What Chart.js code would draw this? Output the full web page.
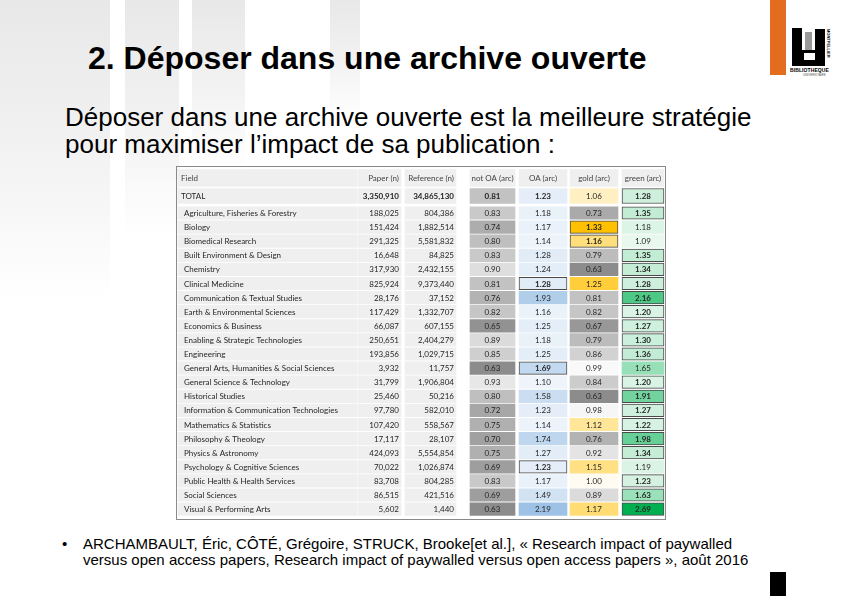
<!DOCTYPE html>
<html lang="fr">
<head>
<meta charset="utf-8">
<title>Déposer dans une archive ouverte</title>
<script src="https://cdn.jsdelivr.net/npm/chart.js@4.4.0/dist/chart.umd.min.js"></script>
<style>
html, body { margin: 0; padding: 0; background: #fff; }
body { width: 842px; height: 596px; position: relative; overflow: hidden; font-family: "Liberation Sans", Arial, sans-serif; color: #000; }
.ghost { position: absolute; top: 0; background: linear-gradient(#e8e8e8, #f3f3f3 55%, rgba(255,255,255,0)); }
#title { position: absolute; left: 88px; top: 42px; font-size: 32px; line-height: 32px; font-weight: bold; white-space: nowrap; }
#lead { position: absolute; left: 65px; top: 104px; font-size: 26px; line-height: 27px; white-space: nowrap; }
#tableBox { position: absolute; left: 176px; top: 166px; width: 490px; height: 354px; }
#note { position: absolute; left: 83px; top: 536px; font-size: 15px; line-height: 15.5px; white-space: nowrap; }
#note .bullet { position: absolute; left: -21px; top: 0; }
#orange { position: absolute; left: 770px; top: 0; width: 16px; height: 75px; background: #e36c1e; }
#blackbar { position: absolute; left: 770px; top: 572px; width: 16px; height: 24px; background: #000; }
.logo { position: absolute; background: #000; }
</style>
</head>
<body>
<div class="ghost" style="left:0;width:110px;height:300px"></div>
<div class="ghost" style="left:125px;width:54px;height:240px"></div>
<div class="ghost" style="left:192px;width:53px;height:170px"></div>
<div class="ghost" style="left:330px;width:30px;height:120px"></div>

<div id="orange"></div>
<div class="logo" style="left:792px;top:28px;width:10px;height:38px"></div>
<div class="logo" style="left:792px;top:50px;width:33px;height:16px"></div>
<div class="logo" style="left:815px;top:29px;width:10px;height:22px"></div>
<div class="logo" style="left:805px;top:32px;width:7px;height:18px;background:#9a9a9a"></div>
<div class="logo" style="left:804px;top:53px;width:11px;height:7px;background:#fff"></div>
<div style="position:absolute;left:790px;top:67px;font-size:5px;font-weight:bold;letter-spacing:0.1px">BIBLIOTHEQUE</div>
<div style="position:absolute;left:803px;top:73px;font-size:3px;color:#555">UNIVERSITAIRE</div>
<div style="position:absolute;left:826px;top:29px;font-size:4px;font-weight:bold;writing-mode:vertical-rl">MONTPELLIER</div>

<div id="title">2. Déposer dans une archive ouverte</div>
<div id="lead">Déposer dans une archive ouverte est la meilleure stratégie<br>pour maximiser l’impact de sa publication :</div>

<div id="tableBox"><canvas id="tableChart" width="490" height="354"></canvas></div>

<div id="note"><span class="bullet">•</span>ARCHAMBAULT, Éric, CÔTÉ, Grégoire, STRUCK, Brooke[et al.], « Research impact of paywalled<br>versus open access papers, Research impact of paywalled versus open access papers », août 2016</div>
<div id="blackbar"></div>

<script>
// Données du tableau (Archambault et al., 2016)
const headers = ['Field', 'Paper (n)', 'Reference (n)', 'not OA (arc)', 'OA (arc)', 'gold (arc)', 'green (arc)'];
const fields = ['TOTAL', 'Agriculture, Fisheries & Forestry', 'Biology', 'Biomedical Research', 'Built Environment & Design',
    'Chemistry', 'Clinical Medicine', 'Communication & Textual Studies', 'Earth & Environmental Sciences',
    'Economics & Business', 'Enabling & Strategic Technologies', 'Engineering',
    'General Arts, Humanities & Social Sciences', 'General Science & Technology', 'Historical Studies',
    'Information & Communication Technologies', 'Mathematics & Statistics', 'Philosophy & Theology',
    'Physics & Astronomy', 'Psychology & Cognitive Sciences', 'Public Health & Health Services',
    'Social Sciences', 'Visual & Performing Arts'];
const papers = [3350910, 188025, 151424, 291325, 16648, 317930, 825924, 28176, 117429, 66087, 250651, 193856,
    3932, 31799, 25460, 97780, 107420, 17117, 424093, 70022, 83708, 86515, 5602];
const references = [34865130, 804386, 1882514, 5581832, 84825, 2432155, 9373440, 37152, 1332707, 607155, 2404279, 1029715,
    11757, 1906804, 50216, 582010, 558567, 28107, 5554854, 1026874, 804285, 421516, 1440];
const notOA = [0.81, 0.83, 0.74, 0.80, 0.83, 0.90, 0.81, 0.76, 0.82, 0.65, 0.89, 0.85,
    0.63, 0.93, 0.80, 0.72, 0.75, 0.70, 0.75, 0.69, 0.83, 0.69, 0.63];
const oa = [1.23, 1.18, 1.17, 1.14, 1.28, 1.24, 1.28, 1.93, 1.16, 1.25, 1.18, 1.25,
    1.69, 1.10, 1.58, 1.23, 1.14, 1.74, 1.27, 1.23, 1.17, 1.49, 2.19];
const gold = [1.06, 0.73, 1.33, 1.16, 0.79, 0.63, 1.25, 0.81, 0.82, 0.67, 0.79, 0.86,
    0.99, 0.84, 0.63, 0.98, 1.12, 0.76, 0.92, 1.15, 1.00, 0.89, 1.17];
const green = [1.28, 1.35, 1.18, 1.09, 1.35, 1.34, 1.28, 2.16, 1.20, 1.27, 1.30, 1.36,
    1.65, 1.20, 1.91, 1.27, 1.22, 1.98, 1.34, 1.19, 1.23, 1.63, 2.69];
// valeurs en gras (significatives)
const boldNotOA = ['TOTAL'];
const boldOA = ['TOTAL', 'Clinical Medicine', 'General Arts, Humanities & Social Sciences', 'Psychology & Cognitive Sciences'];
const boldGold = ['Biology', 'Biomedical Research'];
const boldGreen = fields.filter(f => !['Biology', 'Biomedical Research', 'General Arts, Humanities & Social Sciences',
    'Psychology & Cognitive Sciences'].includes(f));

const valueCols = [notOA, oa, gold, green];
const boldCols = [boldNotOA, boldOA, boldGold, boldGreen];

// mise en page (unités = pixels du tableau)
const colEdges = [[2, 181], [182, 225], [229, 280], [294, 339], [343, 391], [394, 442], [446, 488]];
const rowY = r => r === 0 ? 12 : r === 1 ? 30 : 47 + (r - 2) * 14.1;
const rowH = r => r === 0 ? 17 : r === 1 ? 15 : 12.5;

function mix(a, b, t) {
    t = Math.max(0, Math.min(1, t));
    return 'rgb(' + a.map((v, i) => Math.round(v + (b[i] - v) * t)).join(',') + ')';
}
function grayFor(v) {
    const l = Math.round(Math.max(138, Math.min(251, 140 + (v - 0.63) / 0.37 * 112)));
    return 'rgb(' + l + ',' + l + ',' + l + ')';
}
function cellColor(r, c) {
    if (r === 0 || c < 3) return '#efefef';
    const v = valueCols[c - 3][r - 1];
    if (c === 3) return grayFor(v);
    if (c === 4) return v < 1 ? grayFor(v) : mix([246, 249, 253], [156, 194, 229], (v - 1) / 1.2);
    if (c === 5) return v < 1 ? grayFor(v) : mix([255, 251, 240], [255, 192, 0], (v - 1) / 0.33);
    return v < 1 ? grayFor(v) : mix([246, 252, 248], [0, 176, 80], (v - 1) / 1.69);
}
function isBold(r, c) {
    if (r === 0 || c < 3) return r === 1 && c > 0;
    return boldCols[c - 3].includes(fields[r - 1]);
}
function isBoxed(r, c) {
    if (!isBold(r, c) || c < 3) return false;
    return r !== 1 || c === 6;
}
function cellText(r, c) {
    if (r === 0) return headers[c];
    const i = r - 1;
    if (c === 0) return fields[i];
    if (c === 1) return papers[i].toLocaleString('en-US');
    if (c === 2) return references[i].toLocaleString('en-US');
    return valueCols[c - 3][i].toFixed(2);
}

const rows = ['header'].concat(fields);
const datasets = rows.map((name, r) => ({
    label: name,
    stack: 'table',
    barThickness: rowH(r),
    borderSkipped: false,
    data: colEdges.map(e => ({ x: [e[0], e[1]], y: rowY(r) })),
    backgroundColor: ctx => cellColor(r, ctx.dataIndex),
    borderColor: '#4a4a4a',
    borderWidth: ctx => isBoxed(r, ctx.dataIndex) ? 1 : 0
}));

const tableText = {
    id: 'tableText',
    afterDatasetsDraw(chart) {
        const ctx = chart.ctx;
        ctx.save();
        ctx.textBaseline = 'middle';
        chart.data.datasets.forEach((ds, r) => {
            chart.getDatasetMeta(r).data.forEach((bar, c) => {
                const p = bar.getProps(['x', 'y', 'base'], true);
                const left = Math.min(p.x, p.base), right = Math.max(p.x, p.base);
                ctx.font = (isBold(r, c) ? 'bold ' : '') + '8px Lato, "Open Sans", sans-serif';
                ctx.fillStyle = r === 0 ? '#444' : '#262626';
                let tx;
                if (c === 0) { ctx.textAlign = 'left'; tx = left + (r < 2 ? 3 : 6); }
                else if (c < 3) { ctx.textAlign = 'right'; tx = right - 2; }
                else { ctx.textAlign = 'center'; tx = (left + right) / 2; }
                ctx.fillText(cellText(r, c), tx, p.y + 0.5);
            });
        });
        const a = chart.chartArea;
        ctx.strokeStyle = '#8a8a8a';
        ctx.lineWidth = 1;
        ctx.strokeRect(a.left + 0.5, a.top + 0.5, a.right - a.left - 1, a.bottom - a.top - 1);
        ctx.restore();
    }
};

new Chart(document.getElementById('tableChart'), {
    type: 'bar',
    data: { datasets: datasets },
    options: {
        indexAxis: 'y',
        responsive: false,
        animation: false,
        devicePixelRatio: 1,
        layout: { padding: 0 },
        plugins: { legend: { display: false }, tooltip: { enabled: false }, title: { display: false } },
        scales: {
            x: { type: 'linear', min: 0, max: 490, display: false, stacked: false, offset: false },
            y: { type: 'linear', min: 0, max: 354, reverse: true, display: false, offset: false }
        }
    },
    plugins: [tableText]
});
</script>
</body>
</html>
